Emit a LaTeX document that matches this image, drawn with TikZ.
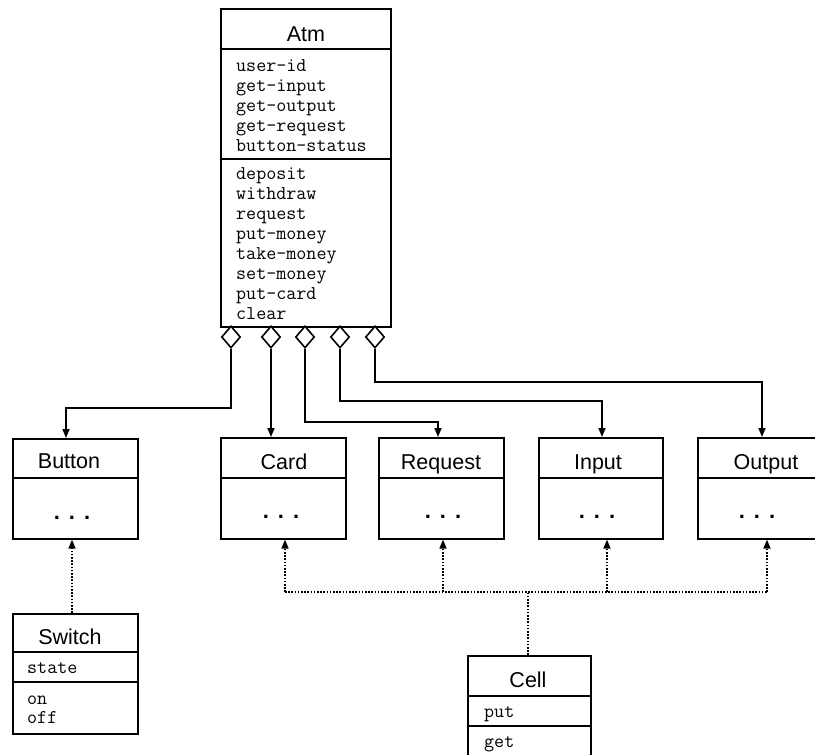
\documentclass[tikz,border=0pt]{standalone}
\usepackage{fontspec}
\setmainfont{Liberation Sans}
\usetikzlibrary{arrows.meta,shapes.geometric,calc}
\tikzset{
  box/.style={draw, line width=1.6pt, rectangle, inner sep=0pt, anchor=north west},
  sepl/.style={line width=1.6pt},
  dia/.style={draw, line width=1.6pt, diamond, fill=white, inner sep=0pt, minimum width=19pt, minimum height=22pt},
  conn/.style={line width=1.6pt, -{Triangle[length=9pt,width=7pt]}},
  dotl/.style={line width=1.6pt, dash pattern=on 1.6pt off 1.6pt},
  dconn/.style={dotl, -{Triangle[length=9pt,width=7pt]}},
  ttl/.style={anchor=base, inner sep=0pt, font=\fontsize{21.5}{24}\selectfont},
  mono/.style={anchor=base west, align=left, inner sep=0pt, font=\fontsize{19.5}{20}\selectfont\ttfamily},
  dots/.style={anchor=base, inner sep=0pt, font=\fontsize{22}{24}\selectfont\bfseries},
}
\newcommand{\threedots}{.\hspace{9pt}.\hspace{9pt}.}
\begin{document}
\begin{tikzpicture}[x=1pt,y=-1pt]
\useasboundingbox (0,0) rectangle (815,755);
\clip (0,0) rectangle (815,755);
\fill[white] (0,0) rectangle (815,755);

% Atm
\node[box, minimum width=170pt, minimum height=318pt] (atm) at (220,8) {};
\draw[sepl] (atm.west |- 0,49) -- (atm.east |- 0,49);
\draw[sepl] (atm.west |- 0,159) -- (atm.east |- 0,159);
\node[ttl] (atmt) at (306,41) {Atm};
% anchor base west = baseline of the last line
\node[mono] (atma) at (236,151) {user-id\\get-input\\get-output\\get-request\\button-status};
\node[mono] (atmo) at (236,319) {deposit\\withdraw\\request\\put-money\\take-money\\set-money\\put-card\\clear};

% diamonds
\node[dia] (d1) at (231,337) {};
\node[dia] (d2) at (271,337) {};
\node[dia] (d3) at (305,337) {};
\node[dia] (d4) at (340,337) {};
\node[dia] (d5) at (375,337) {};

% second row boxes
\node[box, minimum width=125pt, minimum height=100pt] (button) at (12,438) {};
\node[box, minimum width=125pt, minimum height=101pt] (card) at (220,437) {};
\node[box, minimum width=125pt, minimum height=101pt] (request) at (378,437) {};
\node[box, minimum width=124pt, minimum height=101pt] (input) at (538,437) {};
\node[box, minimum width=138pt, minimum height=101pt] (output) at (697,437) {};
\foreach \b in {button,card,request,input,output}
  \draw[sepl] (\b.west |- 0,478) -- (\b.east |- 0,478);
\node[ttl] (buttont) at (69,468) {Button};
\node[ttl] (cardt) at (284,469) {Card};
\node[ttl] (requestt) at (441,469) {Request};
\node[ttl] (inputt) at (598,469) {Input};
\node[ttl] (outputt) at (766,469) {Output};
\node[dots] (buttond) at (72,519) {\threedots};
\node[dots] (cardd) at (281,518) {\threedots};
\node[dots] (requestd) at (443,518) {\threedots};
\node[dots] (inputd) at (597,518) {\threedots};
\node[dots] (outputd) at (757,518) {\threedots};

% Switch
\node[box, minimum width=125pt, minimum height=120pt] (switch) at (12,613) {};
\draw[sepl] (switch.west |- 0,652) -- (switch.east |- 0,652);
\draw[sepl] (switch.west |- 0,682) -- (switch.east |- 0,682);
\node[ttl] (switcht) at (70,644) {Switch};
\node[mono] (switcha) at (27,673) {state};
\node[mono, font=\fontsize{19.5}{19}\selectfont\ttfamily] (switcho) at (27,723) {on\\off};

% Cell
\node[box, minimum width=123pt, minimum height=140pt] (cell) at (467,655) {};
\draw[sepl] (cell.west |- 0,696) -- (cell.east |- 0,696);
\draw[sepl] (cell.west |- 0,726) -- (cell.east |- 0,726);
\node[ttl] (cellt) at (528,687) {Cell};
\node[mono] (cella) at (484,717) {put};
\node[mono] (cello) at (484,747) {get};

% aggregation connectors
\draw[conn] (d1.south) -- (d1.south |- 0,408) -| ($(button.north west)+(54,0)$);
\draw[conn] (d2.south) -- (d2.south |- card.north);
\draw[conn] (d3.south) -- (d3.south |- 0,422) -| ($(request.north west)+(60,0)$);
\draw[conn] (d4.south) -- (d4.south |- 0,401) -| ($(input.north west)+(64,0)$);
\draw[conn] (d5.south) -- (d5.south |- 0,382) -| ($(output.north west)+(65,0)$);

% dotted inheritance
\draw[dconn] ($(switch.north west)+(60,0)$) -- ($(button.south west)+(60,0)$);
\coordinate (j) at (528,592);
\coordinate (jc) at (285,592);
\coordinate (jr) at (443,592);
\coordinate (ji) at (607,592);
\coordinate (jo) at (767,592);
\draw[dotl] (cell.north -| j) -- (j);
\draw[dotl] (jc) -- (jo);
\draw[dconn] (jc) -- (jc |- card.south);
\draw[dconn] (jr) -- (jr |- request.south);
\draw[dconn] (ji) -- (ji |- input.south);
\draw[dconn] (jo) -- (jo |- output.south);
\end{tikzpicture}
\end{document}
